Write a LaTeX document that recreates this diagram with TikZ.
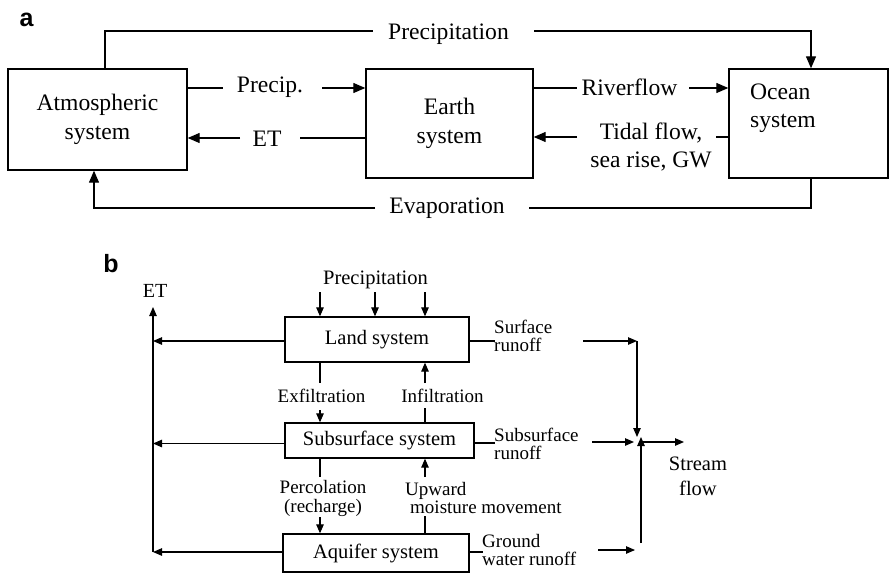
\documentclass[tikz,border=0pt]{standalone}
\usepackage{fontspec}
\setmainfont{Liberation Serif}
\newfontfamily\panelfont{Liberation Sans}
\usetikzlibrary{arrows.meta,calc}
\begin{document}
\begin{tikzpicture}[x=1pt,y=-1pt,
  boxa/.style={draw,line width=1.4pt,inner sep=0pt,align=center,font=\fontsize{23.6}{29}\selectfont},
  txta/.style={inner sep=0pt,align=center,font=\fontsize{23.6}{28}\selectfont},
  lna/.style={line width=1.3pt},
  arra/.style={lna,-{Triangle[length=12pt,width=10pt]}},
  boxb/.style={draw,line width=1.3pt,inner sep=0pt,align=center,font=\fontsize{20.5}{24}\selectfont},
  txtb/.style={inner sep=0pt,align=center,font=\fontsize{19}{18.5}\selectfont},
  lnb/.style={line width=1.1pt},
  arrb/.style={lnb,-{Triangle[length=9pt,width=7.5pt]}},
  panel/.style={font=\panelfont\bfseries\fontsize{25}{25}\selectfont,inner sep=0pt}
]
\useasboundingbox (0,0) rectangle (889,573);

% ---------------- panel a ----------------
\node[panel] (la) at (26.5,20) {a};
\node[boxa,minimum width=179pt,minimum height=101pt] (atm) at (97.5,119.5) {Atmospheric\\system};
\node[boxa,minimum width=167pt,minimum height=109pt] (earth) at (449.5,123.5) {Earth\\system};
\node[boxa,minimum width=159pt,minimum height=109pt] (ocean) at (808.5,123.5) {};
\node[txta,align=left,anchor=west] (oceant) at (750,108) {Ocean\\system};

% top precipitation
\node[txta] (tp) at (448.5,34) {Precipitation};
\coordinate (tpa) at (105,31);
\coordinate (tpl) at (373,31);
\coordinate (tpr) at (534,31);
\coordinate (tpc) at (811,31);
\draw[lna] (atm.north -| tpa) -- (tpa) -- (tpl);
\draw[arra] (tpr) -- (tpc) -- (ocean.north -| tpc);

% Precip.
\node[txta] (pa) at (270,87) {Precip.};
\coordinate (pal) at (223,88);
\coordinate (par) at (322,88);
\draw[lna] (atm.east |- pal) -- (pal);
\draw[arra] (par) -- (earth.west |- par);

% ET
\node[txta] (eta) at (267,138.5) {ET};
\coordinate (etr) at (300,138);
\coordinate (etl) at (240,138);
\draw[lna] (earth.west |- etr) -- (etr);
\draw[arra] (etl) -- (atm.east |- etl);

% Riverflow
\node[txta] (rf) at (629.5,87.5) {Riverflow};
\coordinate (rfl) at (577,88);
\coordinate (rfr) at (689,88);
\draw[lna] (earth.east |- rfl) -- (rfl);
\draw[arra] (rfr) -- (ocean.west |- rfr);

% Tidal flow
\node[txta] (tf) at (651,147.5) {Tidal flow,\\sea rise, GW};
\coordinate (tfr) at (716,137);
\coordinate (tfl) at (577,137);
\draw[lna] (ocean.west |- tfr) -- (tfr);
\draw[arra] (tfl) -- (earth.east |- tfl);

% Evaporation
\node[txta] (ev) at (447,208) {Evaporation};
\coordinate (evc) at (811,208);
\coordinate (evr) at (529,208);
\coordinate (evl) at (375,208);
\coordinate (eva) at (94,208);
\draw[lna] (ocean.south -| evc) -- (evc) -- (evr);
\draw[arra] (evl) -- (eva) -- (atm.south -| eva);

% ---------------- panel b ----------------
\node[panel] (lb) at (111,264) {b};
\node[boxb,minimum width=184pt,minimum height=45pt] (land) at (377,339.5) {\raisebox{2pt}{Land system}};
\node[boxb,minimum width=189pt,minimum height=35pt] (sub) at (379.5,440.5) {\raisebox{-2pt}{Subsurface system}};
\node[boxb,minimum width=186pt,minimum height=38pt] (aq) at (376,553) {Aquifer system};

% ET column
\node[txtb,font=\fontsize{20}{20}\selectfont] (etb) at (155,290.5) {ET};
\coordinate (etbot) at (153,552);
\coordinate (ettop) at (153,307);
\draw[arrb] (etbot) -- (ettop);
\coordinate (ly) at (0,341);
\coordinate (sy) at (0,443.5);
\coordinate (ay) at (0,552);
\draw[arrb] (land.west |- ly) -- (etbot |- ly);
\draw[arrb] (sub.west |- sy) -- (etbot |- sy);
\draw[arrb] (aq.west |- ay) -- (etbot |- ay);

% precipitation arrows
\node[txtb,font=\fontsize{20.5}{20}\selectfont] (prb) at (375.5,280) {Precipitation};
\coordinate (pr1) at (320,292);
\coordinate (pr2) at (375,292);
\coordinate (pr3) at (425,292);
\draw[arrb] (pr1) -- (land.north -| pr1);
\draw[arrb] (pr2) -- (land.north -| pr2);
\draw[arrb] (pr3) -- (land.north -| pr3);

% Exfiltration
\node[txtb] (exf) at (321.5,396) {Exfiltration};
\coordinate (exa) at (320,383);
\coordinate (exb) at (320,410);
\draw[lnb] (land.south -| exa) -- (exa);
\draw[arrb] (exb) -- (sub.north -| exb);

% Infiltration
\node[txtb] (inf) at (442.5,396) {Infiltration};
\coordinate (ina) at (425,408);
\coordinate (inb) at (425,383);
\draw[lnb] (sub.north -| ina) -- (ina);
\draw[arrb] (inb) -- (land.south -| inb);

% Percolation
\node[txtb] (perc) at (323,498.5) {Percolation\\(recharge)};
\coordinate (pca) at (320,477);
\coordinate (pcb) at (320,517);
\draw[lnb] (sub.south -| pca) -- (pca);
\draw[arrb] (pcb) -- (aq.north -| pcb);

% Upward moisture movement
\node[txtb,align=left,anchor=west] (upw) at (405,498) {Upward\\\hspace*{5pt}moisture movement};
\coordinate (upa) at (425,477);
\coordinate (upb) at (425,516);
\draw[arrb] (upa) -- (sub.south -| upa);
\draw[lnb] (aq.north -| upb) -- (upb);

% Surface runoff
\node[txtb,align=left,anchor=west] (srf) at (494,336) {Surface\\runoff};
\coordinate (srl) at (495,341);
\coordinate (sra) at (583,341);
\coordinate (srb) at (637,341);
\coordinate (jd) at (637,437);
\draw[lnb] (land.east |- srl) -- (srl);
\draw[arrb] (sra) -- (srb);
\draw[arrb] (srb) -- (jd);

% Subsurface runoff
\node[txtb,align=left,anchor=west] (ssr) at (494,444) {Subsurface\\runoff};
\coordinate (ssl) at (495,443);
\coordinate (ssa) at (592,442);
\coordinate (ssb) at (634,442);
\draw[lnb] (sub.east |- ssl) -- (ssl);
\draw[arrb] (ssa) -- (ssb);

% Ground water runoff
\node[txtb,align=left,anchor=west] (gwr) at (482,550) {Ground\\water runoff};
\coordinate (gwl) at (483,552);
\coordinate (gwa) at (598,550);
\coordinate (gwb) at (635,550);
\draw[lnb] (aq.east |- gwl) -- (gwl);
\draw[arrb] (gwa) -- (gwb);

% junction / stream flow
\coordinate (ju) at (641,543);
\coordinate (jt) at (641,437);
\coordinate (js) at (641,442);
\coordinate (je) at (684,442);
\draw[arrb] (ju) -- (jt);
\draw[arrb] (js) -- (je);
\node[txtb,font=\fontsize{20.5}{25}\selectfont] (stf) at (698,476.5) {Stream\\flow};
\end{tikzpicture}
\end{document}
